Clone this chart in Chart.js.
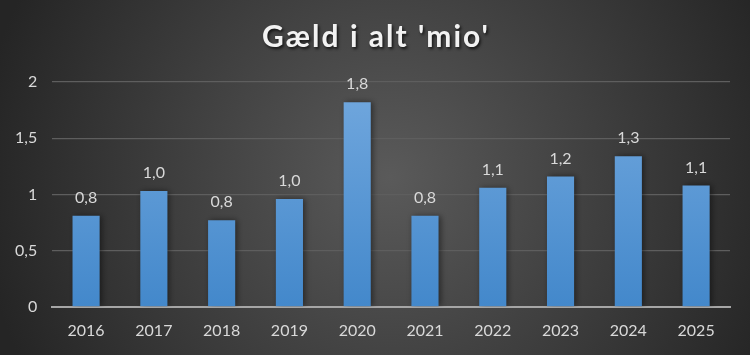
<!DOCTYPE html>
<html><head><meta charset="utf-8">
<script src="https://cdn.jsdelivr.net/npm/chart.js@4.4.1/dist/chart.umd.min.js"></script>
<style>html,body{margin:0;padding:0;background:#333;}#wrap{width:750px;height:355px;}</style>
</head><body><div id="wrap"><canvas id="c" width="750" height="355"></canvas></div>
<script>
const years = ['2016','2017','2018','2019','2020','2021','2022','2023','2024','2025'];
const debtMio = [0.81, 1.03, 0.77, 0.96, 1.82, 0.81, 1.06, 1.16, 1.34, 1.08];
const yTicks = [0, 0.5, 1, 1.5, 2];
const titleText = "Gæld i alt 'mio'";
const FONT = 'Lato';
const fmt = v => String(v).replace('.', ',');

const bgPlugin = {
  id: 'bg',
  beforeDraw(chart) {
    const {ctx, width, height} = chart;
    const g = ctx.createRadialGradient(width*0.52, height*0.5, 0, width*0.52, height*0.5, width*0.55);
    g.addColorStop(0, '#5a5a5a');
    g.addColorStop(1, '#252525');
    ctx.save(); ctx.fillStyle = g; ctx.fillRect(0, 0, width, height); ctx.restore();
  }
};
const shadowPlugin = {
  id: 'shadow',
  beforeDatasetsDraw(chart) {
    const ctx = chart.ctx; ctx.save();
    ctx.shadowColor = 'rgba(0,0,0,0.45)'; ctx.shadowBlur = 6; ctx.shadowOffsetX = 2; ctx.shadowOffsetY = 0;
  },
  afterDatasetsDraw(chart) { chart.ctx.restore(); }
};
const labelPlugin = {
  id: 'vals',
  afterDatasetsDraw(chart) {
    const ctx = chart.ctx; const meta = chart.getDatasetMeta(0);
    ctx.save();
    ctx.font = '16px ' + FONT; ctx.fillStyle = '#d9d9d9';
    ctx.textAlign = 'center'; ctx.textBaseline = 'middle';
    meta.data.forEach((bar, i) => {
      ctx.fillText(fmt(debtMio[i].toFixed(1)), bar.x, bar.y - 18);
    });
    ctx.restore();
  }
};
const titlePlugin = {
  id: 'customTitle',
  afterDraw(chart) {
    const ctx = chart.ctx;
    ctx.save();
    ctx.font = 'bold 30px ' + FONT;
    if ('letterSpacing' in ctx) ctx.letterSpacing = '2px';
    ctx.textAlign = 'center'; ctx.textBaseline = 'middle';
    ctx.shadowColor = 'rgba(0,0,0,0.7)'; ctx.shadowBlur = 3; ctx.shadowOffsetX = 1.5; ctx.shadowOffsetY = 2;
    ctx.fillStyle = '#f2f2f2';
    ctx.fillText(titleText, chart.width / 2 + 1, 37);
    ctx.restore();
  }
};

new Chart(document.getElementById('c'), {
  type: 'bar',
  data: { labels: years, datasets: [{
    data: debtMio,
    backgroundColor: (c) => {
      const a = c.chart.chartArea; if (!a) return '#5b9bd5';
      const g = c.chart.ctx.createLinearGradient(0, a.top, 0, a.bottom);
      g.addColorStop(0, '#72a8de'); g.addColorStop(1, '#4388cb');
      return g;
    },
    barPercentage: 0.4, categoryPercentage: 1.0
  }]},
  plugins: [bgPlugin, shadowPlugin, labelPlugin, titlePlugin],
  options: {
    responsive: false, animation: false, devicePixelRatio: 1,
    layout: { padding: { left: 0, right: 20, top: 82, bottom: 1 } },
    plugins: { legend: { display: false }, tooltip: { enabled: false }, title: { display: false } },
    scales: {
      x: { grid: { display: false, drawTicks: false },
        border: { display: true, color: '#a6a6a6', width: 2 },
        ticks: { color: '#d9d9d9', font: { family: FONT, size: 16 }, padding: 14 } },
      y: { min: 0, max: 2,
        afterBuildTicks: (ax) => { ax.ticks = yTicks.map(v => ({ value: v })); },
        grid: { color: '#5e5e5e', lineWidth: 1.3, drawTicks: false },
        border: { display: false },
        ticks: { color: '#d9d9d9', font: { family: FONT, size: 16 }, padding: 15,
          callback: (v) => fmt(v) } }
    }
  }
});
</script></body></html>
